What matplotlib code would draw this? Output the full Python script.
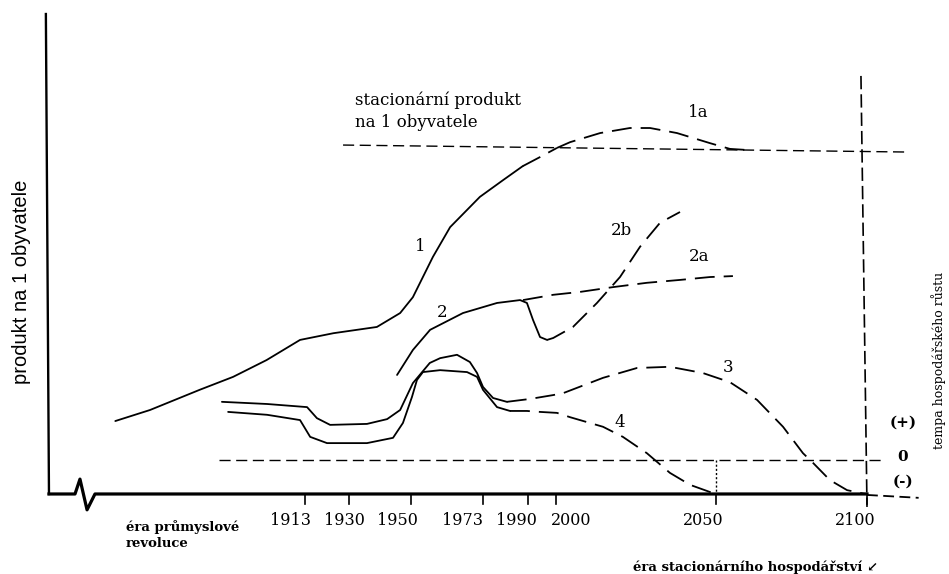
import numpy as np
import matplotlib.pyplot as plt

# years on the time axis (scale is hand drawn, so piecewise)
tick_years = [1913, 1930, 1950, 1973, 1990, 2000, 2050, 2100]
# hand lettered labels sit a little left of their ticks
tick_label_years = [1901.7, 1928.1, 1945.5, 1966.3, 1985.5, 2004.7, 2045.9, 2096]
scale_years = [1667, 1913, 1930, 1950, 1973, 1990, 2000, 2050, 2100, 2127]
scale_pos = [0, 305, 349, 411, 483, 528, 556, 716, 867, 949]

# curve 1: product per capita, solid part, then dashed towards stationary level
c1_years = [1760, 1788, 1828, 1855, 1882, 1909, 1924, 1939, 1946.5, 1950.6, 1957, 1962.5, 1972, 1980.6, 1988]
c1_vals = [15.2, 17.5, 21.7, 24.4, 27.9, 32.1, 33.5, 34.8, 37.7, 41.0, 49.4, 55.6, 61.9, 65.4, 68.3]
c1_dash_years = [1988, 1994.3, 2000.3]
c1_dash_vals = [68.3, 70.2, 72.1]
c1a_years = [2000.3, 2004.4, 2013.8, 2023.1, 2029.4, 2037.8, 2048.1, 2054.6, 2059.6]
c1a_vals = [72.1, 73.3, 75.2, 76.25, 76.25, 75.2, 73.1, 71.9, 71.7]

# stationary product per capita
stat_years = [1927.7, 2112.5]
stat_vals = [72.7, 71.25]

# curve 2 and its variants 2a, 2b
c2_years = [1945.5, 1950.6, 1956.1, 1966.6, 1978.3, 1987, 1989.6, 1991.8, 1994.3, 1996.8]
c2_vals = [24.8, 30.0, 34.2, 37.7, 39.8, 40.4, 39.8, 36.25, 32.7, 32.1]
c2a_years = [1988.1, 1999, 2007.5, 2017.8, 2028.4, 2038.75, 2048.1, 2055.6]
c2a_vals = [40.4, 41.5, 42.1, 43.1, 44.0, 44.6, 45.2, 45.4]
c2b_years = [1996.8, 1999, 2005.3, 2012.8, 2020, 2026.25, 2032.5, 2038.75]
c2b_vals = [32.1, 32.5, 34.8, 39.8, 45.2, 51.5, 56.5, 58.75]

# curve 3 (growth rate)
c3_years = [1846, 1882.4, 1913.8, 1917.6, 1922.7, 1935.8, 1942.3, 1946.5, 1950.6, 1956, 1959.3,
            1964.7, 1968.8, 1971.1, 1973, 1976.8, 1982]
c3_vals = [19.2, 18.75, 18.1, 15.8, 14.4, 14.6, 15.6, 17.5, 23.1, 27.3, 28.3,
           29.0, 27.5, 25.2, 22.3, 20.0, 19.2]
c3_dash_years = [1982, 1990.7, 1998.9, 2002.2, 2014.7, 2025.3, 2035.6, 2045.9, 2054.6, 2063.6,
                 2072.2, 2078.8, 2082.1, 2087.7, 2093.4, 2098.7, 2100]
c3_dash_vals = [19.2, 19.8, 20.6, 21.0, 24.2, 26.25, 26.5, 25.2, 23.3, 19.6,
                14.0, 8.5, 6.5, 2.9, 0.8, 0.1, 0.0]

# curve 4 (growth rate)
c4_years = [1851, 1882.4, 1909, 1915, 1921.5, 1935.8, 1944.2, 1947.4, 1950.3, 1951.9, 1953.8,
            1959.3, 1967.9, 1971.1, 1973, 1978.3, 1983.2]
c4_vals = [17.1, 16.5, 15.4, 11.9, 10.6, 10.6, 11.7, 14.8, 20.2, 23.75, 25.4,
           25.8, 25.4, 24.4, 21.7, 18.1, 17.3]
c4_dash_years = [1983.2, 1989.6, 1994.3, 2000.3, 2004.4, 2014.7, 2020.9, 2028.4, 2035.6, 2041.9, 2049, 2050]
c4_dash_vals = [17.3, 17.3, 17.1, 16.9, 16.0, 14.0, 11.9, 8.5, 4.4, 1.9, 0.2, 0.0]

zero_growth = 7.1


def fwd(x):
    x = np.asarray(x, dtype=float)
    return np.interp(x, scale_years, scale_pos)


def inv(p):
    p = np.asarray(p, dtype=float)
    return np.interp(p, scale_pos, scale_years)


fig = plt.figure(figsize=(9.49, 5.74), dpi=100)
ax = fig.add_axes([0, 0, 1, 1])
ax.set_xscale('function', functions=(fwd, inv))
ax.set_xlim(1667, 2127)
ax.set_ylim(-16.67, 102.92)
ax.axis('off')

k = 'black'
solid = dict(color=k, lw=1.3, solid_capstyle='round')
dash = dict(color=k, lw=1.3, dashes=(11, 5))
fine_dash = dict(color=k, lw=1.0, dashes=(8, 4))

# axes
ax.plot([1704, 1706.5], [100, 0], color=k, lw=1.7)
ax.plot([1706.5, 1727.5, 1731.5, 1737.2, 1743.6, 2100], [0, 0, 3.1, -3.3, 0, 0], color=k, lw=2.3)
ax.plot([2100, 2117], [-0.2, -0.8], color=k, lw=1.3, dashes=(6, 3))
for yr, lab_yr in zip(tick_years, tick_label_years):
    ax.plot([yr, yr], [0, -2.1], color=k, lw=1.2)
    ax.text(lab_yr, -5.6, str(yr), ha='center', va='center', fontsize=11.5, family='DejaVu Serif')

# reference lines
ax.plot(stat_years, stat_vals, **fine_dash)
ax.plot([1843.6, 2106], [zero_growth, zero_growth], **fine_dash)
ax.plot([2098, 2100], [87.1, -2.7], color=k, lw=1.2, dashes=(8, 3))
ax.plot([2050, 2050], [zero_growth, 0], color=k, lw=1.0, dashes=(1.5, 1.5))

# curves
ax.plot(c1_years, c1_vals, **solid)
ax.plot(c1_dash_years, c1_dash_vals, **dash)
ax.plot(c1a_years, c1a_vals, **dash)
ax.plot(c2_years, c2_vals, **solid)
ax.plot(c2a_years, c2a_vals, **dash)
ax.plot(c2b_years, c2b_vals, **dash)
ax.plot(c3_years, c3_vals, **solid)
ax.plot(c3_dash_years, c3_dash_vals, **dash)
ax.plot(c4_years, c4_vals, **solid)
ax.plot(c4_dash_years, c4_dash_vals, **dash)

# curve labels
serif = 'DejaVu Serif'
for txt, xx, yy in [('1', 1952.9, 51.5), ('2', 1959.9, 37.9), ('2b', 2020.6, 55), ('2a', 2044.7, 49.4),
                    ('1a', 2044.4, 79.4), ('3', 2054, 26.25), ('4', 2020, 14.8)]:
    ax.text(xx, yy, txt, ha='center', va='center', fontsize=12, family=serif)
for txt, yy in [('(+)', 14.8), ('0', 7.7), ('(-)', 2.5)]:
    ax.text(2111.8, yy, txt, ha='center', va='center', fontsize=11, family=serif, fontweight='bold')

ax.text(1931.9, 82.1, 'stacionární produkt', ha='left', va='center', fontsize=12, family=serif)
ax.text(1931.9, 77.5, 'na 1 obyvatele', ha='left', va='center', fontsize=12, family=serif)
ax.text(1768.6, -6.9, 'éra průmyslové', ha='left', va='center', fontsize=9.5, family=serif, fontweight='bold')
ax.text(1768.6, -10.4, 'revoluce', ha='left', va='center', fontsize=9.5, family=serif, fontweight='bold')
ax.text(2024, -15.2, 'éra stacionárního hospodářství ↙', ha='left', va='center', fontsize=9.5,
        family=serif, fontweight='bold')
ax.text(1684.7, 44.2, 'produkt na 1 obyvatele', rotation=90, ha='center', va='center', fontsize=14.5,
        family='Liberation Sans')
ax.text(2123.4, 27.9, 'tempa hospodářského růstu', rotation=90, ha='center', va='center', fontsize=9,
        family=serif)

fig.savefig('out.png', dpi=100)
